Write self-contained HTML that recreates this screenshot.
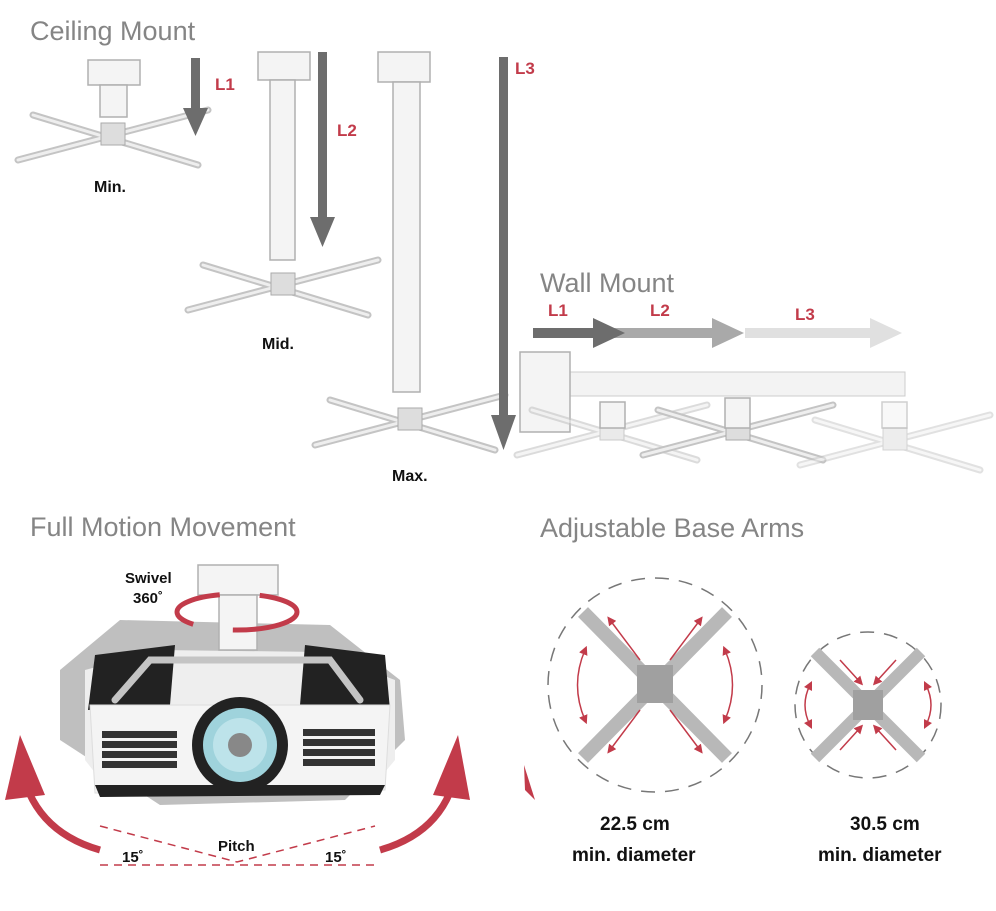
<!DOCTYPE html>
<html><head><meta charset="utf-8"><style>
body{margin:0;background:#fff}
svg{display:block}
.t{font-family:"Liberation Sans",sans-serif;fill:#858585;font-size:27px}
.r{font-family:"Liberation Sans",sans-serif;fill:#c23b4a;font-size:17px;font-weight:bold}
.b{font-family:"Liberation Sans",sans-serif;fill:#111;font-weight:bold}
.m{fill:#f4f4f4;stroke:#b0b0b0;stroke-width:1.5}
.arm{stroke:#c4c4c4;stroke-width:7;stroke-linecap:round;fill:none}
.arm2{stroke:#eee;stroke-width:3;stroke-linecap:round;fill:none}
</style></head><body>
<svg width="996" height="911" viewBox="0 0 996 911">
<defs>
<marker id="ra" markerWidth="6" markerHeight="6" refX="3" refY="3" orient="auto"><path d="M0,0L6,3L0,6z" fill="#c23b4a"/></marker>
<marker id="rs" markerWidth="6" markerHeight="6" refX="3" refY="3" orient="auto-start-reverse"><path d="M0,0L6,3L0,6z" fill="#c23b4a"/></marker>
<g id="x">
 <path class="arm" d="M-95,25L95,-25M-80,-20L85,30"/>
 <path class="arm2" d="M-95,25L95,-25M-80,-20L85,30"/>
 <rect x="-12" y="-12" width="24" height="22" fill="#ddd" stroke="#aaa"/>
</g>
</defs>

<text class="t" x="30" y="40">Ceiling Mount</text>
<rect class="m" x="88" y="60" width="52" height="25"/>
<rect class="m" x="100" y="85" width="27" height="32"/>
<g transform="translate(113,135)"><use href="#x"/></g>
<text class="b" x="94" y="192" font-size="16">Min.</text>
<rect class="m" x="258" y="52" width="52" height="28"/>
<rect class="m" x="270" y="80" width="25" height="180"/>
<g transform="translate(283,285)"><use href="#x"/></g>
<text class="b" x="262" y="349" font-size="16">Mid.</text>
<rect class="m" x="378" y="52" width="52" height="30"/>
<rect class="m" x="393" y="82" width="27" height="310"/>
<g transform="translate(410,420)"><use href="#x"/></g>
<text class="b" x="392" y="481" font-size="16">Max.</text>

<path d="M191,58h9v50h8l-12.5,28l-12.5,-28h8z" fill="#6d6d6d"/>
<path d="M318,52h9v165h8l-12.5,30l-12.5,-30h8z" fill="#6d6d6d"/>
<path d="M499,57h9v358h8l-12.5,35l-12.5,-35h8z" fill="#6d6d6d"/>
<text class="r" x="215" y="90">L1</text>
<text class="r" x="337" y="136">L2</text>
<text class="r" x="515" y="74">L3</text>

<text class="t" x="540" y="292">Wall Mount</text>
<path d="M745,328h125v-10l32,15l-32,15v-10h-125z" fill="#e0e0e0"/>
<path d="M612,328h100v-10l32,15l-32,15v-10h-100z" fill="#a9a9a9"/>
<path d="M533,328h60v-10l32,15l-32,15v-10h-60z" fill="#6d6d6d"/>
<text class="r" x="548" y="316">L1</text>
<text class="r" x="650" y="316">L2</text>
<text class="r" x="795" y="320">L3</text>
<rect x="570" y="372" width="335" height="24" fill="#f3f3f3" stroke="#ccc"/>
<rect class="m" x="520" y="352" width="50" height="80"/>
<g transform="translate(612,430)" opacity=".6"><use href="#x"/></g>
<g transform="translate(738,430)"><use href="#x"/></g>
<g transform="translate(895,440)" opacity=".5"><use href="#x"/></g>
<rect class="m" x="600" y="402" width="25" height="26"/>
<rect class="m" x="725" y="398" width="25" height="30"/>
<rect class="m" x="882" y="402" width="25" height="26" opacity=".6"/>

<text class="t" x="30" y="536">Full Motion Movement</text>
<path d="M120,620L330,625L400,680L405,740L345,800L160,805L60,740L60,670z" fill="#bfbfbf"/>
<path d="M85,670L160,650L320,652L395,680L395,760L370,790L110,792L85,760z" fill="#eee"/>
<path d="M95,655L175,645L170,705L88,710z" fill="#222"/>
<path d="M305,645L385,655L390,710L300,705z" fill="#222"/>
<path d="M90,705L390,705L385,790L95,793z" fill="#f4f4f4" stroke="#ddd"/>
<path d="M95,785L385,785L380,795L100,797z" fill="#222"/>
<g fill="#333">
<rect x="102" y="731" width="75" height="7"/><rect x="102" y="741" width="75" height="7"/><rect x="102" y="751" width="75" height="7"/><rect x="102" y="761" width="75" height="7"/>
<rect x="303" y="729" width="72" height="7"/><rect x="303" y="739" width="72" height="7"/><rect x="303" y="749" width="72" height="7"/><rect x="303" y="759" width="72" height="7"/>
</g>
<circle cx="240" cy="745" r="48" fill="#222"/>
<circle cx="240" cy="745" r="37" fill="#9fd3dc"/>
<circle cx="240" cy="745" r="27" fill="#bde3ea"/>
<circle cx="240" cy="745" r="12" fill="#888"/>
<path class="arm" d="M115,700L150,660L330,660L360,700"/>
<rect class="m" x="198" y="565" width="80" height="30"/>
<rect class="m" x="219" y="595" width="38" height="55"/>
<ellipse cx="237" cy="612" rx="60" ry="18" fill="none" stroke="#c23b4a" stroke-width="5" stroke-dasharray="70 40"/>
<text class="b" x="125" y="583" font-size="15">Swivel</text>
<text class="b" x="133" y="603" font-size="15">360˚</text>
<path d="M100,850Q30,830 20,760" fill="none" stroke="#c23b4a" stroke-width="7"/>
<path d="M5,800L20,735L45,795z" fill="#c23b4a"/>
<path d="M380,850Q450,830 458,760" fill="none" stroke="#c23b4a" stroke-width="7"/>
<path d="M433,795L458,735L470,800z" fill="#c23b4a"/>
<path d="M100,826L237,862L375,826M100,865H375" stroke="#c23b4a" stroke-width="1.5" stroke-dasharray="8 6" fill="none"/>
<text class="b" x="218" y="851" font-size="15">Pitch</text>
<text class="b" x="122" y="862" font-size="15">15˚</text>
<text class="b" x="325" y="862" font-size="15">15˚</text>

<text class="t" x="540" y="537">Adjustable Base Arms</text>
<circle cx="655" cy="685" r="107" fill="none" stroke="#777" stroke-width="1.5" stroke-dasharray="14 10"/>
<path d="M583,612L727,758M727,612L583,758" stroke="#b8b8b8" stroke-width="14"/>
<rect x="637" y="665" width="36" height="38" fill="#a0a0a0"/>
<g stroke="#c23b4a" stroke-width="1.5" marker-end="url(#ra)" fill="none">
<path d="M640,660L610,620"/><path d="M670,660L700,620"/><path d="M640,710L610,750"/><path d="M670,710L700,750"/>
<path d="M585,650Q570,685 585,720" marker-start="url(#rs)"/><path d="M725,650Q740,685 725,720" marker-start="url(#rs)"/>
</g>
<circle cx="868" cy="705" r="73" fill="none" stroke="#777" stroke-width="1.5" stroke-dasharray="14 10"/>
<path d="M815,652L921,758M921,652L815,758" stroke="#b8b8b8" stroke-width="12"/>
<rect x="853" y="690" width="30" height="30" fill="#a0a0a0"/>
<g stroke="#c23b4a" stroke-width="1.5" marker-end="url(#ra)" fill="none">
<path d="M840,660L860,682"/><path d="M896,660L876,682"/><path d="M840,750L860,728"/><path d="M896,750L876,728"/>
<path d="M810,685Q800,705 810,725" marker-start="url(#rs)"/><path d="M926,685Q936,705 926,725" marker-start="url(#rs)"/>
</g>
<text class="b" x="600" y="830" font-size="19">22.5 cm</text>
<text class="b" x="572" y="861" font-size="19">min. diameter</text>
<text class="b" x="850" y="830" font-size="19">30.5 cm</text>
<text class="b" x="818" y="861" font-size="19">min. diameter</text>
<path d="M524,765L535,800L525,790z" fill="#c23b4a"/>
</svg>
</body></html>
